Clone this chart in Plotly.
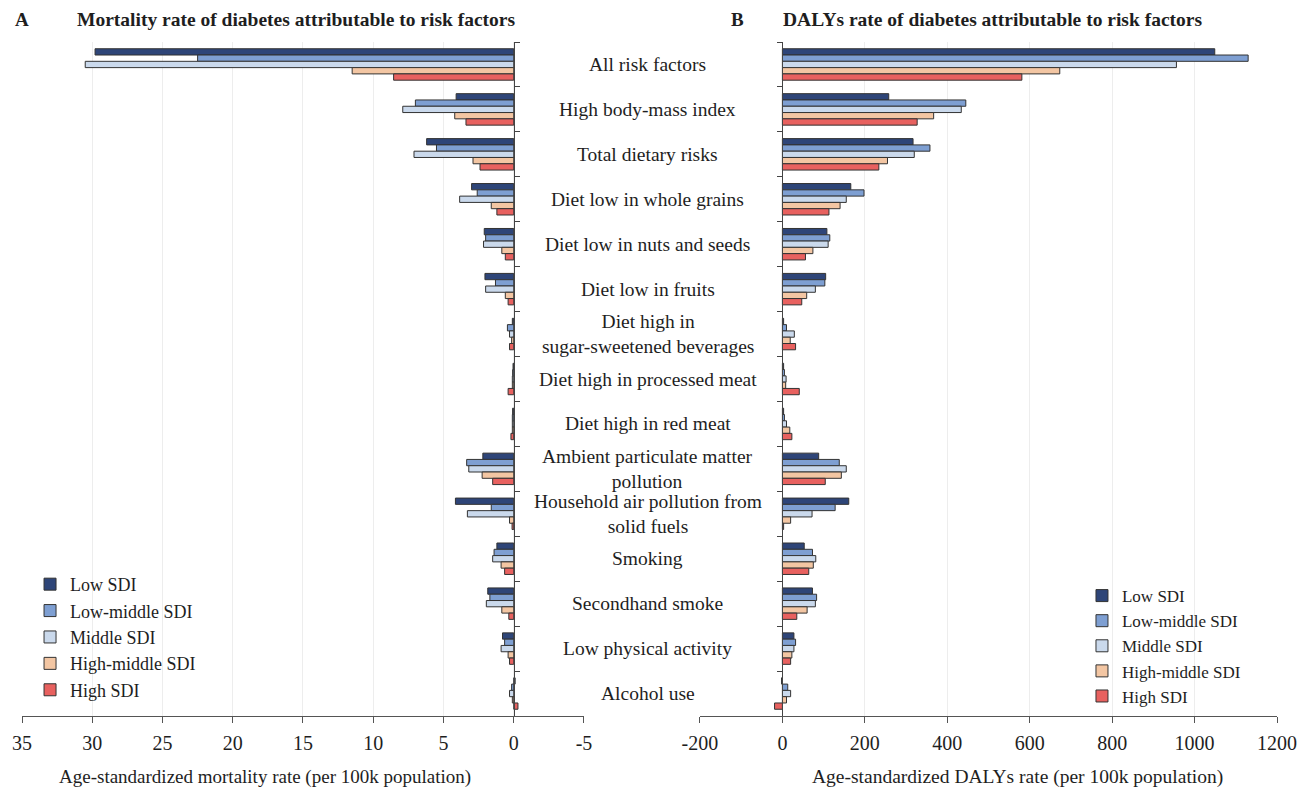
import plotly.graph_objects as go

# Risk factors, top to bottom
categories = [
    "All risk factors", "High body-mass index", "Total dietary risks",
    "Diet low in whole grains", "Diet low in nuts and seeds", "Diet low in fruits",
    "Diet high in<br>sugar-sweetened beverages", "Diet high in processed meat",
    "Diet high in red meat", "Ambient particulate matter<br>pollution",
    "Household air pollution from<br>solid fuels", "Smoking", "Secondhand smoke",
    "Low physical activity", "Alcohol use",
]

sdi_names = ["Low SDI", "Low-middle SDI", "Middle SDI", "High-middle SDI", "High SDI"]
sdi_colors = ["#2E4578", "#7E9FD2", "#CAD9EC", "#F3C6A3", "#E8615F"]

# Age-standardized mortality rate (per 100k)
mort_low = [29.8, 4.1, 6.2, 3.0, 2.1, 2.05, 0.1, 0.05, 0.08, 2.2, 4.15, 1.2, 1.85, 0.8, -0.1]
mort_low_mid = [22.5, 7.0, 5.5, 2.6, 2.0, 1.3, 0.45, 0.08, 0.1, 3.35, 1.6, 1.4, 1.7, 0.65, 0.15]
mort_mid = [30.5, 7.9, 7.1, 3.85, 2.15, 2.0, 0.3, 0.1, 0.1, 3.2, 3.3, 1.5, 1.95, 0.9, 0.3]
mort_high_mid = [11.5, 4.2, 2.9, 1.6, 0.85, 0.6, 0.15, 0.1, 0.1, 2.25, 0.3, 0.9, 0.85, 0.4, 0.1]
mort_high = [8.55, 3.4, 2.4, 1.2, 0.6, 0.4, 0.3, 0.4, 0.2, 1.5, 0.12, 0.65, 0.35, 0.3, -0.3]

# Age-standardized DALYs rate (per 100k)
daly_low = [1049, 258, 317, 166, 108, 105, 3, 3, 3, 88, 161, 53, 73, 28, -2]
daly_low_mid = [1130, 445, 358, 198, 115, 103, 10, 5, 5, 138, 128, 73, 83, 32, 13]
daly_mid = [956, 434, 320, 155, 111, 80, 29, 9, 10, 155, 72, 81, 80, 28, 20]
daly_high_mid = [673, 367, 255, 140, 74, 59, 19, 8, 18, 143, 20, 75, 60, 23, 10]
daly_high = [581, 327, 234, 113, 56, 47, 32, 41, 23, 104, 3, 64, 35, 20, -19]

# Axis ticks
mort_ticks = [35, 30, 25, 20, 15, 10, 5, 0, -5]
daly_ticks = [-200, 0, 200, 400, 600, 800, 1000, 1200]

mort_series = [mort_low, mort_low_mid, mort_mid, mort_high_mid, mort_high]
daly_series = [daly_low, daly_low_mid, daly_mid, daly_high_mid, daly_high]

mort_range = [35, -5]
daly_range = [-200, 1200]

FONT = "Liberation Serif, Times New Roman, serif"
OUTLINE = "#333333"
TXT = "#1E1E1E"

fig = go.Figure()

for i, (name, color) in enumerate(zip(sdi_names, sdi_colors)):
    fig.add_trace(go.Bar(
        y=categories, x=mort_series[i], orientation="h", name=name,
        marker=dict(color=color, line=dict(color=OUTLINE, width=1)),
        xaxis="x", yaxis="y", legend="legend", legendgroup=f"m{i}",
    ))
for i, (name, color) in enumerate(zip(sdi_names, sdi_colors)):
    fig.add_trace(go.Bar(
        y=categories, x=daly_series[i], orientation="h", name=name,
        marker=dict(color=color, line=dict(color=OUTLINE, width=1)),
        xaxis="x2", yaxis="y2", legend="legend2", legendgroup=f"d{i}",
    ))

dom1 = [0.0, 0.4478]
dom2 = [0.5402, 1.0]


def zero_pos(dom, rng):
    frac = (0 - rng[0]) / (rng[1] - rng[0])
    return dom[0] + frac * (dom[1] - dom[0])


xaxis_common = dict(
    ticks="outside", ticklen=6, tickcolor="#555", showline=True, linecolor="#555",
    linewidth=1, showgrid=True, gridcolor="#EDEDED", zeroline=False,
    tickfont=dict(family=FONT, size=20, color=TXT), ticklabelstandoff=3,
    automargin=False,
)
yaxis_common = dict(
    type="category", tickson="boundaries", ticks="outside", ticklen=5,
    tickcolor="#444", showline=True, linecolor="#444", linewidth=1,
    showticklabels=False, showgrid=False, anchor="free", automargin=False,
    range=[len(categories) - 0.5, -0.5],
)

fig.update_layout(
    width=1312, height=787,
    margin=dict(l=22, r=35, t=42, b=71, autoexpand=False),
    paper_bgcolor="white", plot_bgcolor="white",
    barmode="group", bargap=0.3, bargroupgap=0,
    font=dict(family=FONT, color=TXT),
    xaxis=dict(domain=dom1, range=mort_range, tickvals=mort_ticks,
               ticktext=[str(v) for v in mort_ticks], anchor="y", **xaxis_common),
    xaxis2=dict(domain=dom2, range=daly_range, tickvals=daly_ticks,
                ticktext=[str(v) for v in daly_ticks], anchor="y2", **xaxis_common),
    yaxis=dict(side="right", position=zero_pos(dom1, mort_range), **yaxis_common),
    yaxis2=dict(side="left", position=zero_pos(dom2, daly_range), **yaxis_common),
    legend=dict(x=0.0064, y=0.2226, xanchor="left", yanchor="top",
                font=dict(family=FONT, size=18, color=TXT),
                bgcolor="rgba(0,0,0,0)", tracegroupgap=0),
    legend2=dict(x=0.8446, y=0.2047, xanchor="left", yanchor="top",
                 font=dict(family=FONT, size=17, color=TXT),
                 bgcolor="rgba(0,0,0,0)", tracegroupgap=0),
)

annotations = []
for cat in categories:
    annotations.append(dict(
        x=0.4988, xref="paper", y=cat, yref="y", text=cat, showarrow=False,
        xanchor="center", yanchor="middle",
        font=dict(family=FONT, size=19.5, color=TXT),
    ))

annotations += [
    dict(x=-0.0072, xref="paper", y=1.033, yref="paper", text="<b>A</b>", showarrow=False,
         xanchor="left", yanchor="middle", font=dict(family=FONT, size=19, color=TXT)),
    dict(x=0.219, xref="paper", y=1.033, yref="paper",
         text="<b>Mortality rate of diabetes attributable to risk factors</b>", showarrow=False,
         xanchor="center", yanchor="middle", font=dict(family=FONT, size=19.5, color=TXT)),
    dict(x=0.5633, xref="paper", y=1.033, yref="paper", text="<b>B</b>", showarrow=False,
         xanchor="left", yanchor="middle", font=dict(family=FONT, size=19, color=TXT)),
    dict(x=0.773, xref="paper", y=1.033, yref="paper",
         text="<b>DALYs rate of diabetes attributable to risk factors</b>", showarrow=False,
         xanchor="center", yanchor="middle", font=dict(family=FONT, size=19.5, color=TXT)),
    dict(x=0.1936, xref="paper", y=-0.09, yref="paper",
         text="Age-standardized mortality rate (per 100k population)", showarrow=False,
         xanchor="center", yanchor="middle", font=dict(family=FONT, size=19, color=TXT)),
    dict(x=0.793, xref="paper", y=-0.09, yref="paper",
         text="Age-standardized DALYs rate (per 100k population)", showarrow=False,
         xanchor="center", yanchor="middle", font=dict(family=FONT, size=19.5, color=TXT)),
]
fig.update_layout(annotations=annotations)

fig.write_html("out.html")
